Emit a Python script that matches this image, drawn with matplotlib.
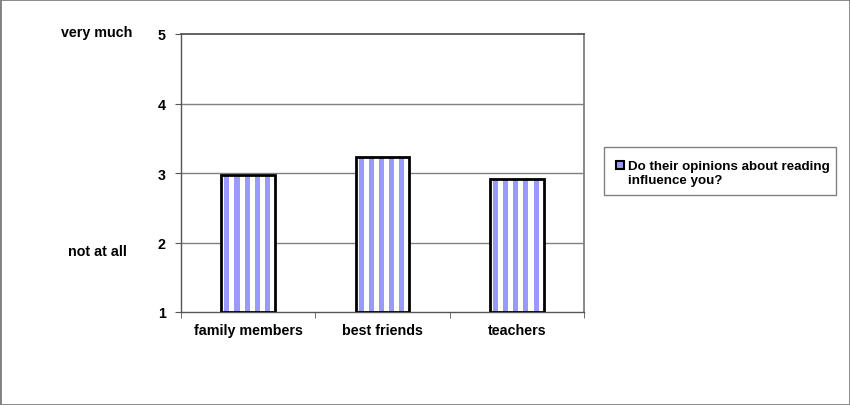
import numpy as np
import matplotlib
matplotlib.use("Agg")
import matplotlib.pyplot as plt
from matplotlib.patches import Rectangle

categories = ["family members", "best friends", "teachers"]
values = [2.97, 3.23, 2.91]
yticks = [1, 2, 3, 4, 5]
legend_label = "Do their opinions about reading\ninfluence you?"
scale_labels = {5: "very much", 2: "not at all"}

plt.rcParams["font.family"] = ["Liberation Sans", "DejaVu Sans"]
plt.rcParams["font.weight"] = "bold"

BLUE = "#9999ff"
W, H = 850, 406
fig = plt.figure(figsize=(W / 100, H / 100), dpi=100)
ax = fig.add_axes([181 / W, 1 - 313 / H, (584 - 181) / W, (313 - 35) / H])

x = np.arange(len(categories))
bw = 0.40
base = 1.0
heights = [v - base for v in values]

# white bar body, then vertical stripes, then black outline
ax.bar(x, heights, bw, bottom=base, color="white", zorder=2)
n_stripes = 5
period = bw / 5.3
sw = period * 0.5
for xi, h in zip(x, heights):
    left = xi - bw / 2 + period * 0.3
    for k in range(n_stripes):
        ax.bar(left + k * period, h, sw, bottom=base, align="edge",
               color=BLUE, linewidth=0, zorder=3)
ax.bar(x, heights, bw, bottom=base, fill=False, edgecolor="black",
       linewidth=2, zorder=4)

ax.set_ylim(1, 5)
ax.set_xlim(-0.5, len(categories) - 0.5)
ax.set_yticks(yticks)
ax.set_yticklabels([str(t) for t in yticks], fontsize=10.3, fontweight="bold")
ax.set_xticks(x)
ax.set_xticklabels(categories, fontsize=10.3, fontweight="bold")
ax.tick_params(axis="x", length=0, pad=8)
ax.tick_params(axis="y", direction="out", length=4, color="#555555", pad=7)
# category boundary ticks on x axis
ax.set_xticks(np.arange(-0.5, len(categories)), minor=True)
ax.tick_params(axis="x", which="minor", direction="out", length=4, color="#555555")

for t in yticks[1:-1]:
    ax.axhline(t, color="#808080", linewidth=1, zorder=1)
for side in ["left", "bottom"]:
    ax.spines[side].set_color("#555555")
    ax.spines[side].set_linewidth(1)
ax.spines["top"].set_color("#555555")
ax.spines["top"].set_linewidth(1.3)
ax.spines["right"].set_color("#808080")
ax.spines["right"].set_linewidth(1.3)

# scale descriptors
for val, lab in scale_labels.items():
    ypix = 313 - (val - 1) * (313 - 35) / 4
    yfig = 1 - (ypix - 2) / H if val == 5 else 1 - (ypix + 9) / H
    fig.text(97 / W, yfig, lab, ha="center", va="center",
             fontsize=10.3, fontweight="bold")

# legend box
fig.patches.append(Rectangle((604 / W, 1 - 196 / H), (836 - 604) / W, 48 / H,
                             transform=fig.transFigure, facecolor="white",
                             edgecolor="#808080", linewidth=1))
fig.patches.append(Rectangle((616 / W, 1 - 170 / H), 8 / W, 8 / H,
                             transform=fig.transFigure, facecolor=BLUE,
                             edgecolor="black", linewidth=1.5))
fig.text(628 / W, 1 - 174 / H, legend_label, ha="left", va="center",
         fontsize=9.6, fontweight="bold", linespacing=1.25)

# outer frame
fig.patches.append(Rectangle((0, 0), 1, 1, transform=fig.transFigure,
                             fill=False, edgecolor="#808080", linewidth=2))

fig.savefig("out.png", dpi=100)
